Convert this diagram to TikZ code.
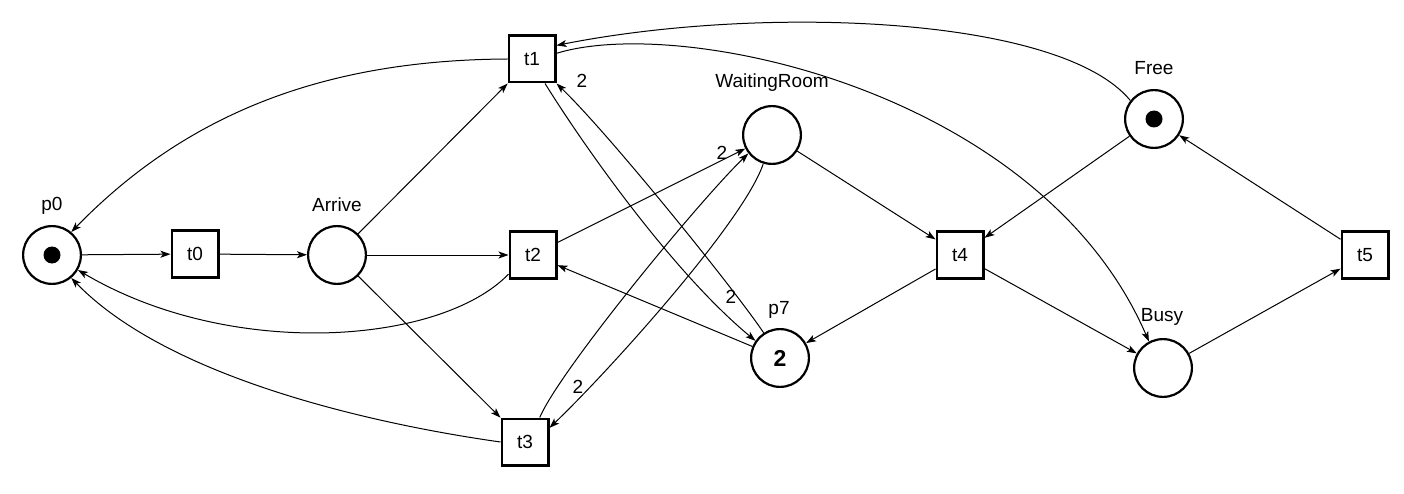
\documentclass[tikz,border=0pt]{standalone}
\usepackage{fontspec}
\setmainfont{Liberation Sans}
\usetikzlibrary{arrows.meta}
\begin{document}
\begin{tikzpicture}[x=1pt,y=-1pt,
  every node/.style={font=\fontsize{19}{22}\selectfont},
  place/.style={circle,draw,line width=2.2pt,minimum size=57.8pt,inner sep=0pt},
  trans/.style={rectangle,draw,line width=2.2pt,minimum size=46.8pt,inner sep=0pt},
  token/.style={circle,fill=black,minimum size=17pt,inner sep=0pt},
  arc/.style={line width=1pt,-{Stealth[length=10pt,width=7pt,inset=2.5pt]}},
  lbl/.style={inner sep=0pt}
]
\useasboundingbox (0,0) rectangle (1404,494);
% places
\node[place] (p0) at (52,255) {};
\node[token] (p0tok) at (p0) {};
\node[place] (Arrive) at (337,255) {};
\node[place] (WR) at (772,135) {};
\node[place,font=\fontsize{23}{26}\selectfont\bfseries] (p7) at (780,358) {2};
\node[place] (Free) at (1154,119) {};
\node[token] (Freetok) at (Free) {};
\node[place] (Busy) at (1163,368) {};
% transitions
\node[trans] (t0) at (195,254) {t0};
\node[trans] (t1) at (532,59) {t1};
\node[trans] (t2) at (533,255) {t2};
\node[trans] (t3) at (525,442) {t3};
\node[trans] (t4) at (960,255) {t4};
\node[trans] (t5) at (1365,255) {t5};
% labels
\node[lbl] (p0lab) at (52,206) {p0};
\node[lbl] (Arrivelab) at (337,205) {Arrive};
\node[lbl] (WRlab) at (772,83) {WaitingRoom};
\node[lbl] (p7lab) at (779,310) {p7};
\node[lbl] (Freelab) at (1154,68) {Free};
\node[lbl] (Busylab) at (1162,317) {Busy};
% arcs
\draw[arc] (p0) -- (t0);
\draw[arc] (t0) -- (Arrive);
\draw[arc] (Arrive) -- (t2);
\draw[arc] (Arrive) -- (t1);
\draw[arc] (Arrive) -- (t3);
\draw[arc] (t1.west) .. controls (330,60) and (190,110) .. (p0.50);
\draw[arc] (t2.218) .. controls (440,345) and (230,360) .. (p0.-30);
\draw[arc] (t3.west) .. controls (380,425) and (170,380) .. (p0.-50);
\draw[arc] (Free.142) .. controls (1060,15) and (760,5) .. (t1.29);
\draw[arc] (t1.13) .. controls (680,15) and (1040,90) .. (Busy.118);
\draw[arc] (t1.-62) .. controls (580,140) and (670,270) .. (p7.145);
\draw[arc] (p7.123) .. controls (735,290) and (610,135) .. (t1.south east);
\draw[arc] (t2.27) -- (WR.207);
\draw[arc] (t3.59) .. controls (560,370) and (700,200) .. (WR.218);
\draw[arc] (WR.253) .. controls (745,220) and (610,370) .. (t3.30);
\draw[arc] (p7) -- (t2);
\draw[arc] (WR) -- (t4);
\draw[arc] (Free) -- (t4);
\draw[arc] (t4) -- (p7);
\draw[arc] (t4) -- (Busy);
\draw[arc] (Busy) -- (t5);
\draw[arc] (t5) -- (Free);
% weights
\node[lbl] (w1) at (582,81) {2};
\node[lbl] (w2) at (722,153) {2};
\node[lbl] (w3) at (731,297) {2};
\node[lbl] (w4) at (578,387) {2};
\end{tikzpicture}
\end{document}
